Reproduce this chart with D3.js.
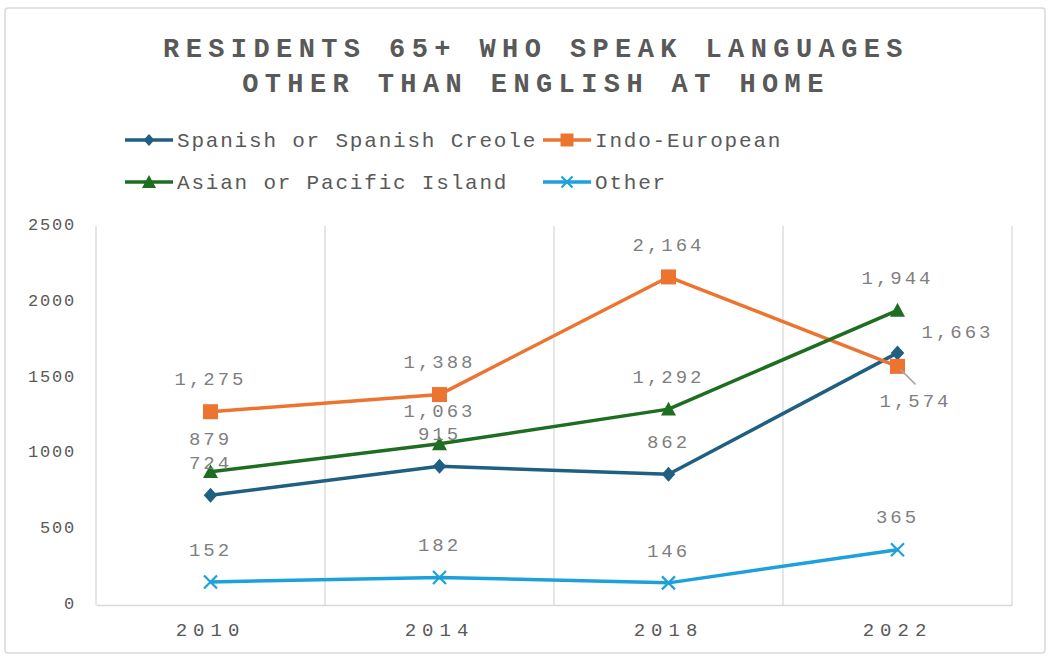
<!DOCTYPE html>
<html><head><meta charset="utf-8">
<script src="https://cdn.jsdelivr.net/npm/d3@7"></script>
<style>
html,body{margin:0;padding:0;background:#fff;}
svg{display:block;}
</style></head>
<body>
<svg id="chart" width="1050" height="658"></svg>
<script>
const categories = ["2010", "2014", "2018", "2022"];
const spanish = [724, 915, 862, 1663];
const indoEuropean = [1275, 1388, 2164, 1574];
const asian = [879, 1063, 1292, 1944];
const other = [152, 182, 146, 365];
const yTicks = [0, 500, 1000, 1500, 2000, 2500];
const seriesNames = ["Spanish or Spanish Creole", "Indo-European", "Asian or Pacific Island", "Other"];
const titleLines = ["RESIDENTS 65+ WHO SPEAK LANGUAGES", "OTHER THAN ENGLISH AT HOME"];

const series = [
  {name: seriesNames[0], values: spanish, color: "#1f5f82", marker: "diamond"},
  {name: seriesNames[1], values: indoEuropean, color: "#ed7430", marker: "square"},
  {name: seriesNames[2], values: asian, color: "#1e6e22", marker: "triangle"},
  {name: seriesNames[3], values: other, color: "#1ea0da", marker: "x"}
];

const svg = d3.select("#chart");
const mono = "'Liberation Mono','DejaVu Sans Mono',monospace";

// outer border
svg.append("rect").attr("x", 5).attr("y", 8).attr("width", 1040).attr("height", 645)
  .attr("rx", 3).attr("fill", "#fff").attr("stroke", "#d9d9d9").attr("stroke-width", 1.5);

// title
svg.append("g").selectAll("text").data(titleLines).join("text")
  .attr("x", 536).attr("y", (d, i) => 57 + i * 35)
  .attr("text-anchor", "middle")
  .attr("font-family", mono).attr("font-weight", "bold").attr("font-size", 27)
  .attr("letter-spacing", 6.4).attr("fill", "#595959")
  .text(d => d);

const plot = {left: 96, right: 1012, top: 226, bottom: 605};
const x = d3.scaleBand().domain(categories).range([plot.left, plot.right]);
const y = d3.scaleLinear().domain([0, 2500]).range([plot.bottom, plot.top]);

// vertical gridlines at category boundaries
const bounds = categories.map(c => x(c)).concat([x(categories[categories.length - 1]) + x.bandwidth()]);
svg.append("g").selectAll("line").data(bounds).join("line")
  .attr("x1", d => d).attr("x2", d => d).attr("y1", plot.top).attr("y2", plot.bottom)
  .attr("stroke", "#d9d9d9").attr("stroke-width", 1.3);

// x axis
const xAxis = svg.append("g").attr("transform", `translate(0,${plot.bottom})`)
  .call(d3.axisBottom(x).tickSize(0).tickPadding(14));
xAxis.select(".domain").attr("stroke", "#d9d9d9").attr("stroke-width", 1.5);
xAxis.selectAll("text").attr("font-family", mono).attr("font-size", 19)
  .attr("letter-spacing", 6).attr("fill", "#595959").attr("dy", "0.9em");

// y axis
const yAxis = svg.append("g").attr("transform", `translate(${plot.left - 20},0)`)
  .call(d3.axisLeft(y).tickValues(yTicks).tickSize(0).tickPadding(0).tickFormat(d3.format("d")));
yAxis.select(".domain").remove();
yAxis.selectAll("text").attr("font-family", mono).attr("font-size", 17)
  .attr("letter-spacing", 1.8).attr("fill", "#595959").attr("dy", "0.2em");

function markerPath(type, s) {
  const h = s / 2;
  if (type === "diamond") return `M0,${-h}L${h * 0.9},0L0,${h}L${-h * 0.9},0Z`;
  if (type === "square") return `M${-h},${-h}H${h}V${h}H${-h}Z`;
  if (type === "triangle") return `M0,${-h}L${h},${h * 0.85}L${-h},${h * 0.85}Z`;
  return `M${-h},${-h}L${h},${h}M${-h},${h}L${h},${-h}`;
}
function drawMarker(g, type, color, size) {
  if (type === "x") {
    g.append("path").attr("d", markerPath(type, size)).attr("stroke", color).attr("stroke-width", 2.2).attr("fill", "none");
  } else {
    g.append("path").attr("d", markerPath(type, size)).attr("fill", color);
  }
}

const sizes = {diamond: 15, square: 15, triangle: 15, x: 13};
const line = d3.line().x((d, i) => x(categories[i]) + x.bandwidth() / 2).y(d => y(d));

series.forEach(s => {
  svg.append("path").datum(s.values).attr("d", line)
    .attr("fill", "none").attr("stroke", s.color).attr("stroke-width", 3.5).attr("stroke-linejoin", "round");
});
series.forEach(s => {
  s.values.forEach((v, i) => {
    const g = svg.append("g").attr("transform", `translate(${x(categories[i]) + x.bandwidth() / 2},${y(v)})`);
    drawMarker(g, s.marker, s.color, sizes[s.marker]);
  });
});

// data labels
const fmt = d3.format(",");
const labelOffsets = {
  "Spanish or Spanish Creole": [[0, -33], [0, -33], [0, -33], [60, -22]],
  "Indo-European": [[0, -33], [0, -33], [0, -33], [18, 34]],
  "Asian or Pacific Island": [[0, -33], [0, -33], [0, -33], [0, -33]],
  "Other": [[0, -33], [0, -33], [0, -33], [0, -33]]
};
series.forEach(s => {
  s.values.forEach((v, i) => {
    const px = x(categories[i]) + x.bandwidth() / 2, py = y(v);
    const off = labelOffsets[s.name][i];
    if (s.name === "Indo-European" && i === 3) {
      svg.append("line").attr("x1", px + 3).attr("y1", py + 3).attr("x2", px + 18).attr("y2", py + 18)
        .attr("stroke", "#a6a6a6").attr("stroke-width", 1.5);
    }
    svg.append("text").attr("x", px + off[0]).attr("y", py + off[1])
      .attr("text-anchor", "middle").attr("dy", "0.35em")
      .attr("font-family", mono).attr("font-size", 19).attr("letter-spacing", 3)
      .attr("fill", "#7f7f7f").text(fmt(v));
  });
});

// legend
const legendPos = [[125, 140], [543, 140], [125, 182], [543, 182]];
const legendSizes = {diamond: 12, square: 13, triangle: 14, x: 11};
series.forEach((s, i) => {
  const [lx, ly] = legendPos[i];
  const g = svg.append("g").attr("transform", `translate(${lx},${ly})`);
  g.append("line").attr("x1", 0).attr("x2", 48).attr("y1", 0).attr("y2", 0)
    .attr("stroke", s.color).attr("stroke-width", 3.5);
  const mg = g.append("g").attr("transform", "translate(24,0)");
  drawMarker(mg, s.marker, s.color, legendSizes[s.marker]);
  g.append("text").attr("x", 52).attr("y", 0).attr("dy", "0.35em")
    .attr("font-family", mono).attr("font-size", 21).attr("letter-spacing", 1.8)
    .attr("fill", "#595959").text(s.name);
});
</script>
</body></html>
